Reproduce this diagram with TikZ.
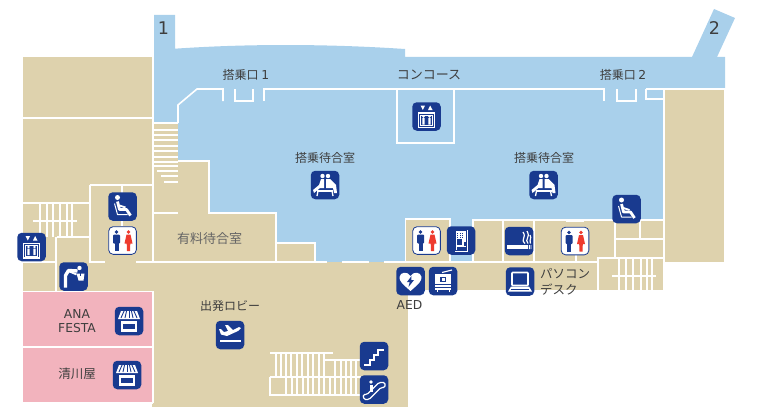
\documentclass[tikz,border=0pt]{standalone}
\usepackage{xcolor}
\usepackage{fontspec}
\setmainfont{DejaVu Sans}
\newfontfamily\jpfont{Noto Sans CJK JP}
\usetikzlibrary{positioning}
\definecolor{gatearea}{HTML}{A9D0EB}
\definecolor{landside}{HTML}{DED2AD}
\definecolor{shoparea}{HTML}{F2B3BD}
\definecolor{iconblue}{HTML}{193A8F}
\definecolor{ladyred}{HTML}{EE3B2E}
\definecolor{labelgrey}{HTML}{3E3E3E}

\tikzset{
    wall/.style={draw=white, line width=1.6pt},
    thinwall/.style={draw=white, line width=1.3pt},
    iconbox/.style={fill=iconblue, rounded corners=4.5pt, minimum size=28.5pt, inner sep=0pt},
    wcbox/.style={draw=iconblue, line width=0.8pt, fill=white, rounded corners=4.5pt, minimum size=27.7pt, inner sep=0pt},
    lbl/.style={text=labelgrey, font=\jpfont\fontsize{12}{12}\selectfont, inner sep=0pt},
    latinlbl/.style={text=labelgrey, font=\fontsize{12.3}{13.8}\selectfont, inner sep=0pt, align=center},
    gatenum/.style={text=labelgrey, font=\fontsize{17.5}{17.5}\selectfont, inner sep=0pt},
    liftglyph/.pic={
        \draw[white, line width=1.1pt] (-8,-3.5) rectangle (8,11);
        \draw[white, line width=0.5pt] (-6,-1.5) rectangle (6,9);
        \fill[white] (-3,0) circle (1.3) (3,0) circle (1.3);
        \fill[white] (-4.2,1.5) rectangle (-1.8,8) (1.8,1.5) rectangle (4.2,8);
        \fill[white] (-6,-11) -- (-1.5,-11) -- (-3.7,-6.5) -- cycle;
        \fill[white] (1.5,-6.5) -- (6,-6.5) -- (3.7,-11) -- cycle;
    },
    seatglyph/.pic={
        \fill[white] (-5,-9) circle (2.5);
        \draw[white, line width=2.8pt, line join=round] (-5,-5) -- (-3,3) -- (4,3) -- (8,9);
        \draw[white, line width=1pt, line join=round] (-8,-3) -- (-5,8) -- (5,8);
        \draw[white, line width=1.8pt] (-3,-1) -- (3,1);
    },
    waitglyph/.pic={
        \fill[white] (-2.5,-9) circle (2.2) (3,-9) circle (2.2);
        \fill[white] (-4,-6) -- (-1,-6) -- (-1,3) -- (-5,3) -- (-11,8) -- (-12,5) -- (-6,0) -- cycle;
        \fill[white] (1,-6) -- (5,-6) -- (11,0) -- (12,8) -- (9,8) -- (8,3) -- (1,3) -- cycle;
        \draw[white, line width=1.3pt] (-8,6) -- (8,6);
        \draw[white, line width=1.3pt] (-7,6) -- (-8,11) (7,6) -- (8,11);
    },
    wcglyph/.pic={
        \fill[iconblue] (-6,-8.5) circle (1.9);
        \fill[iconblue, rounded corners=1pt] (-9.5,-6) rectangle (-2.5,3);
        \fill[iconblue] (-8,2) rectangle (-3.8,10.5);
        \fill[ladyred] (6,-8.5) circle (1.9);
        \fill[ladyred] (4,-6) -- (8,-6) -- (10,3) -- (7.8,3) -- (7.5,10.5) -- (4.5,10.5) -- (4.2,3) -- (2,3) -- cycle;
    },
    shopglyph/.pic={
        \fill[white] (-11,-2) -- (-8,-10) -- (8,-10) -- (11,-2) -- cycle;
        \foreach \sx in {-7,-3.5,0,3.5,7}{\draw[iconblue, line width=0.9pt] (\sx*0.7,-10) -- (\sx*1.15,-3);}
        \draw[white, line width=2.4pt] (-7,1.5) rectangle (7,9.5);
    },
    planeglyph/.pic={
        \fill[white] (-9,-0.5) -- (-11,-6) -- (-9,-6) -- (-6,-3) -- (-2,-4) -- (-5,-10) -- (-2,-10) -- (3,-5) -- (9,-8) -- (11,-7) -- (8,-4) -- (-3,1) -- cycle;
        \draw[white, line width=1.5pt] (-10,6) -- (11,6);
    },
    stairsglyph/.pic={
        \draw[white, line width=2.4pt, line join=miter] (-10,9) -- (-4,9) -- (-4,4) -- (0,4) -- (0,-1) -- (4,-1) -- (4,-6) -- (10,-6);
    },
    escglyph/.pic={
        \draw[white, line width=1.2pt, rounded corners=1.5pt] (-10,10) -- (-5,10) -- (7,-2) -- (11,-2) -- (11,-7) -- (5,-7) -- (-7,5) -- (-11,5) -- cycle;
        \fill[white] (-3,-7.5) circle (1.9);
        \fill[white] (-4.5,-5) rectangle (-1.5,2);
    },
    aedglyph/.pic={
        \fill[white] (0,10) .. controls (-8,3) and (-11.5,0) .. (-11,-4) .. controls (-10.5,-9) and (-3,-10) .. (0,-5) .. controls (3,-10) and (10.5,-9) .. (11,-4) .. controls (11.5,0) and (8,3) .. (0,10) -- cycle;
        \fill[iconblue] (1,-5) -- (-3.5,1) -- (-0.8,1) -- (-2,6) -- (3.5,-1) -- (0.8,-1) -- cycle;
    },
    copyglyph/.pic={
        \fill[white] (-8,-7) rectangle (8,9);
        \draw[white, line width=1.2pt] (-1,-8.5) -- (9,-11);
        \fill[iconblue] (-3,-4) rectangle (3,0.5);
        \fill[white] (-1.5,-3) rectangle (1.5,-0.5);
        \draw[iconblue, line width=0.6pt] (-8,3) -- (8,3) (-8,6) -- (8,6);
        \draw[white, line width=1pt] (-6,9) -- (-6,11) (6,9) -- (6,11);
    },
    vendglyph/.pic={
        \fill[white] (-6.5,-11) rectangle (6.5,11);
        \draw[iconblue, line width=0.6pt] (-5.5,-10) rectangle (5.5,10);
        \foreach \dx in {-3.5,-1,1.5}{\draw[iconblue, line width=0.9pt, densely dotted] (\dx,-7.5) -- (\dx,-3);}
        \fill[iconblue] (-4.5,-2) rectangle (1,4);
        \fill[iconblue] (2.5,1) rectangle (4.5,5);
        \fill[iconblue] (-4.5,6) rectangle (4.5,9);
    },
    smokeglyph/.pic={
        \fill[white] (-12,4) rectangle (9,8);
        \fill[white] (9.8,4) rectangle (10.8,8) (11.5,4) rectangle (12.3,8);
        \draw[white, line width=1.2pt] (6,2.5) .. controls (1,-2) and (8,-3) .. (4,-9) (9,2.5) .. controls (5,-2) and (12,-3) .. (8,-10) (11.5,2.5) .. controls (10,-2) and (13,-2) .. (11,-6);
    },
    pcglyph/.pic={
        \draw[white, line width=1.6pt, rounded corners=0.8pt] (-8,-9) rectangle (8,4);
        \fill[white] (-9,5) -- (9,5) -- (12,10) -- (-12,10) -- cycle;
        \draw[iconblue, line width=0.4pt] (-9,7.5) -- (9,7.5);
    },
    drinkglyph/.pic={
        \fill[white] (6,-8.5) circle (2.2);
        \draw[white, line width=3.4pt, line join=round] (4,-5.5) -- (-5,-6) -- (-8,-1) -- (-8,11);
        \draw[white, line width=1.8pt] (-4,-5) -- (3,-2);
        \fill[white] (3,-3) -- (11,-3) -- (10,4) -- (5,4) -- cycle;
        \draw[iconblue, line width=0.8pt] (6.5,-7) -- (6.5,-1);
    },
}

\begin{document}
\begin{tikzpicture}[x=1pt, y=-1pt]
    \useasboundingbox (0,0) rectangle (760,412);

    % airside
    \fill[gatearea] (154,15) -- (175,15) -- (175,48.7) .. controls (250,43.5) and (330,44) .. (405,49) -- (405,57) -- (692,57) -- (714,9) -- (735,18) -- (717,57) -- (725,57) -- (725,88) -- (664,88) -- (664,221) -- (473,221) -- (473,262) -- (178,262) -- (178,123) -- (154,123) -- cycle;

    % landside blocks
    \fill[landside] (23,57) rectangle (152,117);
    \fill[landside] (23,118) rectangle (152,291);
    \fill[landside] (152,123) rectangle (178,262);
    \fill[landside] (178,161) rectangle (209,262);
    \fill[landside] (152,213) rectangle (276,262);
    \fill[landside] (276,243) rectangle (315,262);
    \fill[landside] (152,262) rectangle (408,407);
    \fill[landside] (408,262) rectangle (598,290);
    \fill[landside] (405,218) rectangle (450,262);
    \fill[landside] (473,220) rectangle (664,262);
    \fill[landside] (598,220) rectangle (664,290);
    \fill[landside] (665,89) rectangle (724,262);
    \fill[shoparea] (23,292) rectangle (152,346);
    \fill[shoparea] (23,348) rectangle (152,402);

    % walls along the gates
    \draw[wall] (178,123) -- (178,105) -- (197,89) -- (223,89) -- (223,101);
    \draw[wall] (235,89) -- (235,101) -- (253,101) -- (253,89);
    \draw[wall] (264,101) -- (264,89) -- (604,89) -- (604,101);
    \draw[wall] (617,89) -- (617,101) -- (636,101) -- (636,89);
    \draw[wall] (646,89) -- (646,99) -- (665,99);
    \draw[wall] (646,89) -- (725,89);
    \draw[wall] (664,89) -- (664,290);
    \draw[wall] (397,89) -- (397,143) -- (454,143) -- (454,89);

    % walls, left wing
    \draw[wall] (23,118) -- (153,118);
    \draw[wall] (153,57) -- (153,262);
    \draw[wall] (23,203) -- (90,203);
    \draw[wall] (90,185) -- (90,262) -- (105,262);
    \draw[wall] (90,185) -- (153,185);
    \draw[wall] (122,185) -- (122,226);
    \draw[wall] (57,237) -- (90,237);
    \draw[wall] (56,237) -- (56,291);
    \draw[wall] (23,262) -- (56,262);
    \draw[wall] (23,291.5) -- (153,291.5);
    \draw[wall] (23,347) -- (153,347);
    \draw[wall] (153,291) -- (153,403);
    \draw[wall] (23,403) -- (153,403);
    \draw[wall] (136,262) -- (276,262);

    % walls, centre
    \draw[wall] (153,123) -- (178,123);
    \draw[wall] (153,213) -- (178,213);
    \draw[wall] (178,161) -- (209,161) -- (209,213) -- (276,213) -- (276,262);
    \draw[wall] (276,243) -- (315,243) -- (315,262);
    \draw[wall] (276,262) -- (327,262) (342,262) -- (369,262) (384,262) -- (598,262);
    \draw[wall] (405.5,262) -- (405.5,219) -- (450,219) -- (450,262);
    \draw[wall] (473,262) -- (473,220) -- (664,220);
    \draw[wall] (503,220) -- (503,262);
    \draw[wall] (534,220) -- (534,262);
    \draw[wall] (576,255) -- (576,262);
    \draw[wall] (615,220) -- (615,258);
    \draw[wall] (640,220) -- (640,239);
    \draw[wall] (615,239) -- (664,239);
    \draw[wall] (598,290) -- (598,258) -- (664,258);
    \draw[wall] (566,221) -- (584,221);

    % stairs
    \foreach \sy in {130,135,140,146,151,157,162,166}{
        \draw[thinwall] (154,\sy) -- (178,\sy);
    }
    \draw[thinwall] (157,171) -- (178,171);
    \draw[thinwall] (161,176) -- (178,176);
    \draw[thinwall] (164,182) -- (178,182);
    \foreach \sx in {40,47,53,60,67,72}{
        \draw[thinwall] (\sx,203) -- (\sx,237);
    }
    \draw[wall] (33,221) -- (77,221);
    \foreach \sx in {619,626,633,641,647,652}{
        \draw[thinwall] (\sx,258) -- (\sx,290);
    }
    \draw[wall] (612,276) -- (656,276);
    \draw[wall] (270,353) -- (333,353);
    \foreach \sx in {276,281,286,291,297,302,308,313,319,324}{
        \draw[thinwall] (\sx,353) -- (\sx,377);
    }
    \draw[wall] (324,360) -- (361,360);
    \foreach \sx in {335,341,346,351,356}{
        \draw[thinwall] (\sx,360) -- (\sx,377);
    }
    \draw[wall] (270,377) -- (361,377);
    \draw[wall] (270,377) -- (270,395) -- (361,395);
    \foreach \sx in {286,292,297,303,308,313,319,324,330,335,341,346,351,356}{
        \draw[thinwall] (\sx,377) -- (\sx,395);
    }

    % labels
    \node[gatenum] (gateA) at (163.5,28) {1};
    \node[gatenum] (gateB) at (714.5,28) {2};
    \node[lbl] (boardA) at (246,75) {搭乗口 {\fontspec{DejaVu Sans}\fontsize{12.3}{12}\selectfont 1}};
    \node[lbl, font=\jpfont\fontsize{13}{13}\selectfont] (concourse) at (429,74.5) {コンコース};
    \node[lbl] (boardB) at (623,75) {搭乗口 {\fontspec{DejaVu Sans}\fontsize{12.3}{12}\selectfont 2}};
    \node[lbl] (waitA) at (325,158) {搭乗待合室};
    \node[lbl] (waitB) at (544,158) {搭乗待合室};
    \node[lbl, text=labelgrey!80, font=\jpfont\fontsize{13}{13}\selectfont] (lounge) at (209.5,239) {有料待合室};
    \node[lbl] (lobby) at (230,306) {出発ロビー};
    \node[latinlbl] (festa) at (77,321) {ANA\\FESTA};
    \node[lbl, font=\jpfont\fontsize{12.5}{12.5}\selectfont] (kiyokawa) at (77,374) {清川屋};
    \node[latinlbl] (aed) at (409.5,305) {AED};
    \node[lbl, font=\jpfont\fontsize{12.5}{12.5}\selectfont, anchor=west] (pcA) at (540,274) {パソコン};
    \node[lbl, font=\jpfont\fontsize{12.5}{12.5}\selectfont, anchor=west] (pcB) at (540,289.5) {デスク};

    % icons
    \foreach \iname/\ix/\iy/\iglyph in {
        liftL/31.5/247/liftglyph, liftC/426.5/116.5/liftglyph,
        seatL/122.5/206.5/seatglyph, seatR/626.5/209/seatglyph,
        waitL/325/185/waitglyph, waitR/543.5/185/waitglyph,
        drink/73.5/276.5/drinkglyph,
        shopA/129/321/shopglyph, shopB/127/375/shopglyph,
        depart/230/335/planeglyph,
        stairs/374/356/stairsglyph, escal/374/389.5/escglyph,
        defib/410.5/281/aedglyph, copier/443/281/copyglyph,
        vending/461/240.5/vendglyph, smoking/519/241/smokeglyph,
        laptop/520/281.5/pcglyph}{
        \node[iconbox] (\iname) at (\ix,\iy) {};
        \pic at (\iname) {\iglyph};
    }
    \foreach \iname/\ix/\iy in {wcL/122.5/240.5, wcC/426.5/240.5, wcR/575/241}{
        \node[wcbox] (\iname) at (\ix,\iy) {};
        \pic at (\iname) {wcglyph};
    }
\end{tikzpicture}
\end{document}
